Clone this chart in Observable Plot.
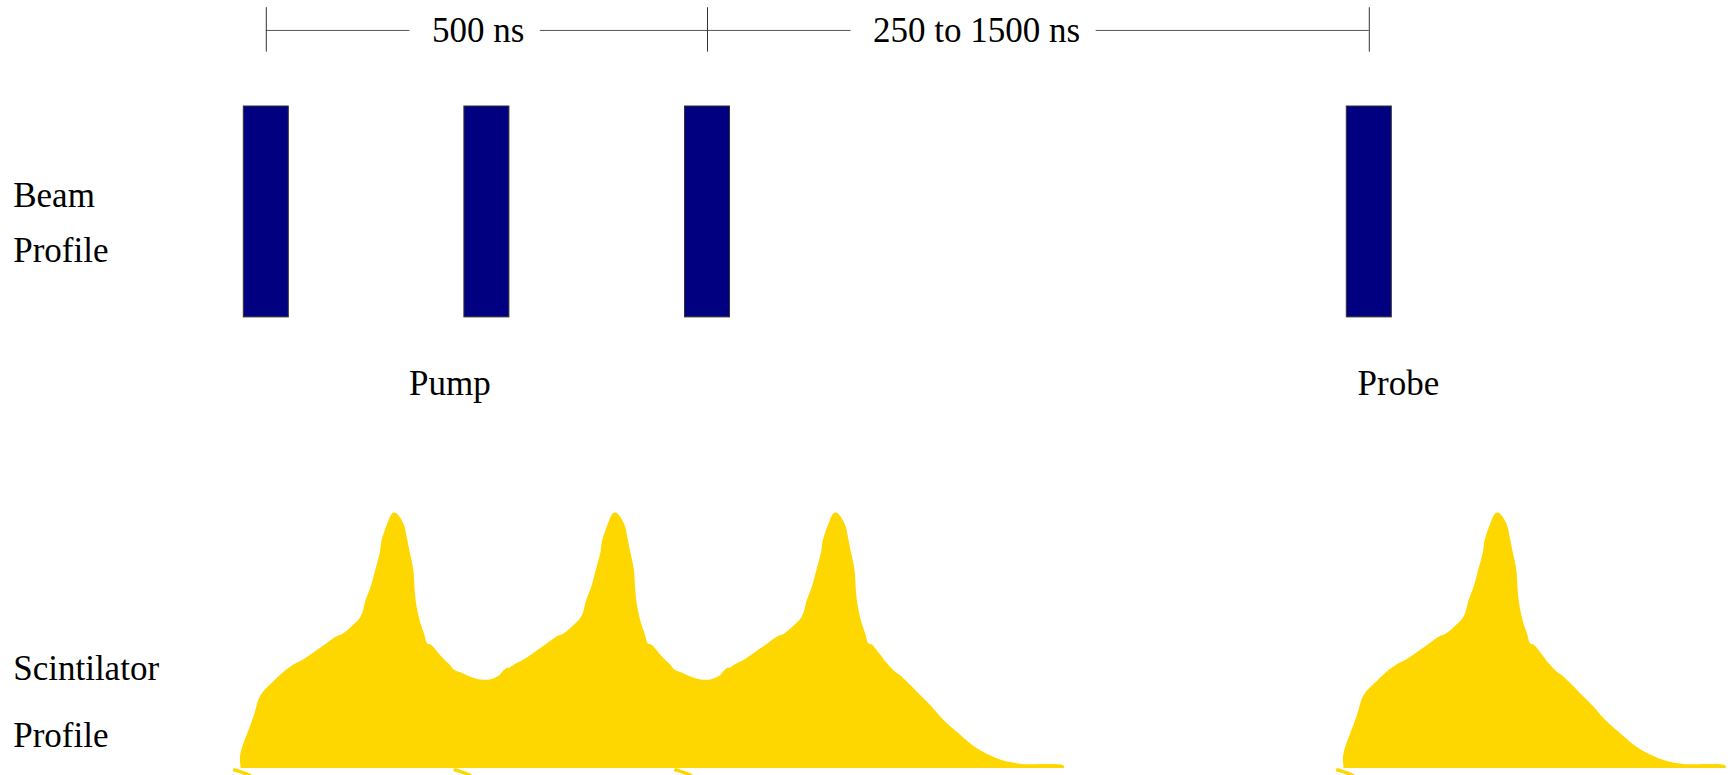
<!DOCTYPE html>
<html>
<head>
<meta charset="utf-8">
<script src="https://cdn.jsdelivr.net/npm/d3@7"></script>
<script src="https://cdn.jsdelivr.net/npm/@observablehq/plot@0.6"></script>
<style>
  html, body { margin: 0; padding: 0; background: #fff; }
  #chart svg { display: block; }
</style>
</head>
<body>
<div id="chart"></div>
<script>
// ---------------- DATA ----------------
// Beam pulse times (ns)
const pumpTimes = [0, 250, 500];
const probeTimes = [1250];
// Beam labels and where they sit along the time axis (ns)
const beamLabels = ["Pump", "Probe"];
const beamLabelTimes = [208, 1283];
// Timing brackets
const spanStarts = [0, 500];
const spanEnds = [500, 1250];
const spanLabels = ["500 ns", "250 to 1500 ns"];
const spanLabelTimes = [240, 805];
// Row labels
const rowLabels = ["Beam", "Profile", "Scintilator", "Profile"];
// Scintillator response of one isolated pulse: time after pulse (ns) and amplitude (% of peak)
const scintDt = [-28.5, -29.3, -26.6, -21.0, -13.4, -5.9, 9.3, 22.5, 33.8, 39.5, 47.0, 65.9, 81.0, 86.7, 96.1,
  107.5, 113.1, 118.8, 124.5, 129.4, 130.9, 133.9, 137.7, 143.4, 147.1, 150.9, 156.6, 159.6, 163.4, 167.2,
  168.7, 169.8, 171.7, 174.7, 179.2, 183.0, 186.8, 194.4, 203.8, 213.2, 218.9, 235.9, 254.8, 266.1, 285.0,
  307.7, 334.1, 356.8, 404.0, 404.5];
const scintAmp = [0, 4.4, 8.4, 13.6, 20.8, 28.6, 34.2, 38.4, 41.0, 42.0, 43.6, 48.2, 51.8, 52.5, 55.1,
  59.3, 65.8, 71.0, 78.2, 84.7, 88.7, 92.2, 95.8, 99.8, 100, 98.7, 95.2, 90.6, 84.1, 77.6,
  69.7, 65.8, 61.9, 57.3, 52.8, 48.8, 48.4, 45.2, 41.0, 37.7, 36.3, 30.6, 24.0, 19.5, 13.6,
  7.3, 3.1, 1.6, 1.0, 0];
// Tail of a pulse that runs into the next pump pulse (after the shoulder)
const joinDt = [197.4, 208.8, 212.5, 222.0, 233.3, 242.7, 254.0, 263.5, 270.0, 275.0, 276.0];
const joinAmp = [44.3, 40.3, 38.7, 37.3, 35.5, 34.7, 34.7, 36.0, 38.4, 39.3, 0];
// Little hook under the baseline at the start of each scintillator pulse
const footDt = [-36.0, -31.5, -26.6, -19.0];
const footAmp = [-0.6, -1.0, -1.6, -2.7];

// ---------------- LAYOUT ----------------
const W = 1731, H = 775;
const X0 = 265.8, X500 = 707;          // pixel positions of t = 0 and t = 500 ns
const pxPerNs = (X500 - X0) / 500;
const FONT = '"Liberation Serif", "Times New Roman", Times, serif';
const FS = 35;
const PULSE_HALF = 25.5;               // half width of a beam pulse, ns
const SHOULDER = 186.8;                // ns after pulse where the joined tail takes over
const JOIN_GAP = 300;                  // pulses closer than this merge
// vertical rows, in y units (scintillator amplitude units)
const ROW = {bracket: 289.1, tickLo: 280.6, tickHi: 298.0, spanText: 284.5,
             beamLo: 176.7, beamHi: 259.3, beamText: 146.4};
const rowLabelY = [219.9, 198.3, 34.5, 8.6];
const rowLabelT = -286.8;

// ---------------- BUILD ----------------
const allPulses = [...pumpTimes, ...probeTimes];
const beam = allPulses.map(t => ({t}));
const scint = allPulses.flatMap((p, i) => {
  const next = allPulses[i + 1];
  const joined = next !== undefined && next - p < JOIN_GAP;
  let pts;
  if (joined) {
    pts = scintDt.map((dt, j) => [dt, scintAmp[j]]).filter(([dt]) => dt <= SHOULDER)
      .concat(joinDt.map((dt, j) => [dt, joinAmp[j]]));
  } else {
    pts = scintDt.map((dt, j) => [dt, scintAmp[j]]);
  }
  return pts.map(([dt, amp]) => ({pulse: i, t: p + dt, amp}));
});
const feet = allPulses.flatMap((p, i) => footDt.map((dt, j) => ({pulse: i, t: p + dt, amp: footAmp[j]})));

const ctx = document.createElement("canvas").getContext("2d");
ctx.font = `${FS}px ${FONT}`;
const spans = spanLabels.map((label, i) => ({label, t: spanLabelTimes[i], start: spanStarts[i], end: spanEnds[i]}));
const segments = spans.flatMap(s => {
  const half = ctx.measureText(s.label).width / 2 / pxPerNs;
  return [
    {x1: s.start, x2: s.t - half - 22 / pxPerNs},
    {x1: s.t + half + 16 / pxPerNs, x2: s.end}
  ];
});
const tickTimes = Array.from(new Set([...spanStarts, ...spanEnds]));
const beamText = beamLabels.map((label, i) => ({label, t: beamLabelTimes[i]}));
const rowText = rowLabels.map((label, i) => ({label, y: rowLabelY[i]}));

const chart = Plot.plot({
  width: W,
  height: H,
  margin: 0,
  x: {domain: [0, 500], range: [X0, X500], axis: null},
  y: {domain: [0, 100], range: [768, 512.7], axis: null},
  style: {background: "#fff", fontFamily: FONT},
  marks: [
    Plot.areaY(scint, {x: "t", y1: 0, y2: "amp", z: "pulse", fill: "#FFD700", curve: "catmull-rom"}),
    Plot.line(feet, {x: "t", y: "amp", z: "pulse", stroke: "#FFD700", strokeWidth: 3.5, curve: "catmull-rom"}),
    Plot.rect(beam, {x1: d => d.t - PULSE_HALF, x2: d => d.t + PULSE_HALF, y1: ROW.beamLo, y2: ROW.beamHi,
                     fill: "#000080", stroke: "#333", strokeWidth: 1}),
    Plot.ruleY(segments, {y: ROW.bracket, x1: "x1", x2: "x2", stroke: "#555", strokeWidth: 1}),
    Plot.ruleX(tickTimes, {x: d => d, y1: ROW.tickLo, y2: ROW.tickHi, stroke: "#333", strokeWidth: 1}),
    Plot.text(spans, {x: "t", y: ROW.spanText, text: "label", fontSize: FS, fontFamily: FONT,
                      lineAnchor: "bottom", textAnchor: "middle", fill: "#000"}),
    Plot.text(beamText, {x: "t", y: ROW.beamText, text: "label", fontSize: FS, fontFamily: FONT,
                         lineAnchor: "bottom", textAnchor: "middle", fill: "#000"}),
    Plot.text(rowText, {x: rowLabelT, y: "y", text: "label", fontSize: FS, fontFamily: FONT,
                        lineAnchor: "bottom", textAnchor: "start", fill: "#000"})
  ]
});
document.getElementById("chart").append(chart);
</script>
</body>
</html>
